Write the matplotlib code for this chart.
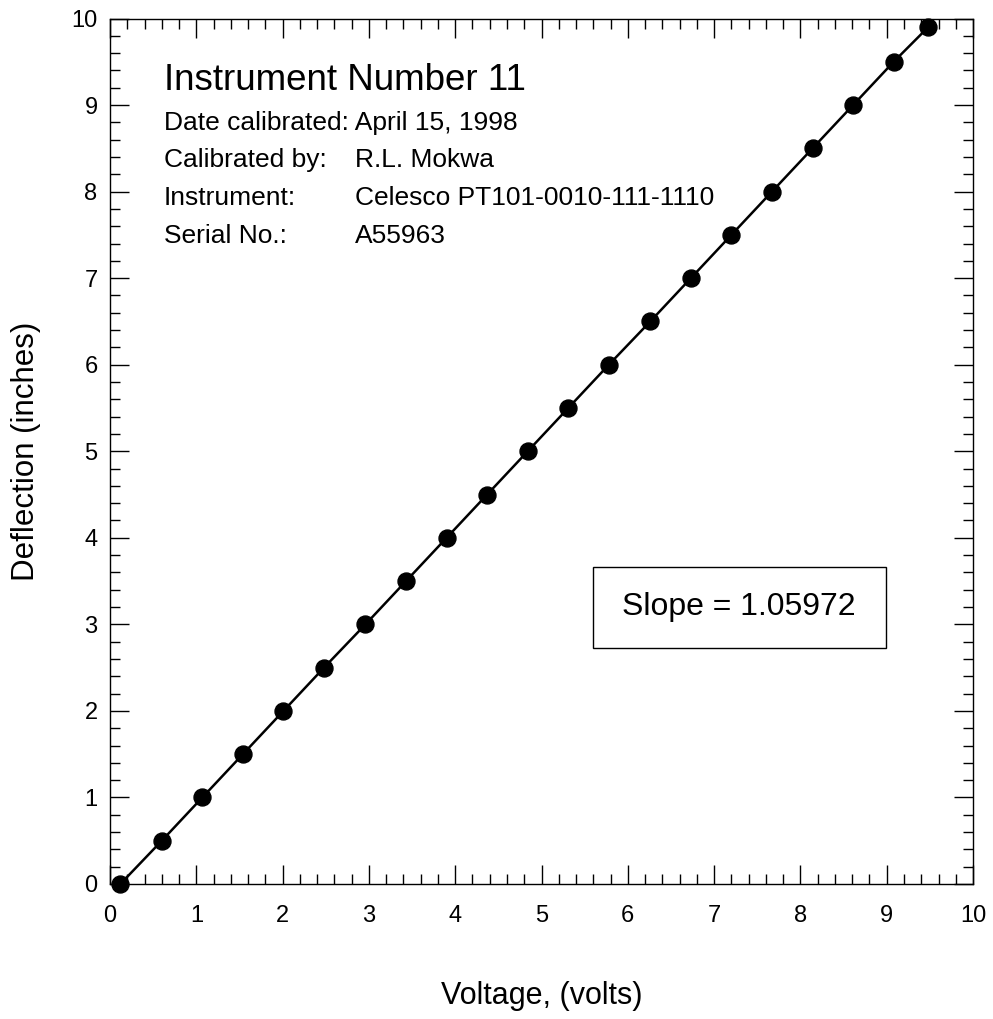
import matplotlib
matplotlib.use("Agg")
import matplotlib.pyplot as plt
from matplotlib.patches import Rectangle
from matplotlib.ticker import MultipleLocator

plt.rcParams['font.family'] = ['Liberation Sans', 'DejaVu Sans']

voltage = [0.12, 0.60, 1.07, 1.54, 2.01, 2.48, 2.96, 3.43, 3.90, 4.37, 4.84,
           5.31, 5.78, 6.26, 6.73, 7.20, 7.67, 8.14, 8.61, 9.08, 9.48]
deflection = [0.0, 0.5, 1.0, 1.5, 2.0, 2.5, 3.0, 3.5, 4.0, 4.5, 5.0,
              5.5, 6.0, 6.5, 7.0, 7.5, 8.0, 8.5, 9.0, 9.5, 9.9]

title_text = "Instrument Number 11"
info_labels = ["Date calibrated: April 15, 1998", "Calibrated by:", "Instrument:", "Serial No.:"]
info_values = ["", "R.L. Mokwa", "Celesco PT101-0010-111-1110", "A55963"]
slope_text = "Slope = 1.05972"
xticks = list(range(0, 11))
yticks = list(range(0, 11))

fig = plt.figure(figsize=(9.93, 10.19), dpi=100)
ax = fig.add_axes([0.1108, 0.1325, 0.8691, 0.8493])

ax.plot(voltage, deflection, color='black', lw=1.8, marker='o', ms=12.2,
        mfc='black', mec='black', clip_on=False, zorder=3)

ax.set_xlim(0, 10)
ax.set_ylim(0, 10)
ax.set_xticks(xticks)
ax.set_yticks(yticks)
ax.xaxis.set_minor_locator(MultipleLocator(0.2))
ax.yaxis.set_minor_locator(MultipleLocator(0.2))
ax.tick_params(which='both', direction='in', top=True, right=True, width=1, color='black')
ax.tick_params(which='major', length=13.8, labelsize=17)
ax.tick_params(which='minor', length=7)
ax.tick_params(axis='x', which='major', pad=15)
ax.tick_params(axis='y', which='major', pad=9)
for s in ax.spines.values():
    s.set_linewidth(1.0)

ax.set_xlabel("Voltage, (volts)", fontsize=22, labelpad=39)
ax.set_ylabel("Deflection (inches)", fontsize=22.5, labelpad=22)

ax.text(0.626, 9.18, title_text, fontsize=26.5, va='baseline', ha='left')
ys = [8.71, 8.29, 7.845, 7.41]
for yy, lab, val in zip(ys, info_labels, info_values):
    ax.text(0.626, yy, lab, fontsize=19, va='baseline', ha='left')
    if val:
        ax.text(2.84, yy, val, fontsize=19, va='baseline', ha='left')

ax.add_patch(Rectangle((5.6, 2.73), 3.39, 0.93, fill=False, ec='black', lw=1.0))
ax.text(7.29, 3.195, slope_text, fontsize=23, va='center', ha='center')

fig.savefig("out.png", dpi=100)
